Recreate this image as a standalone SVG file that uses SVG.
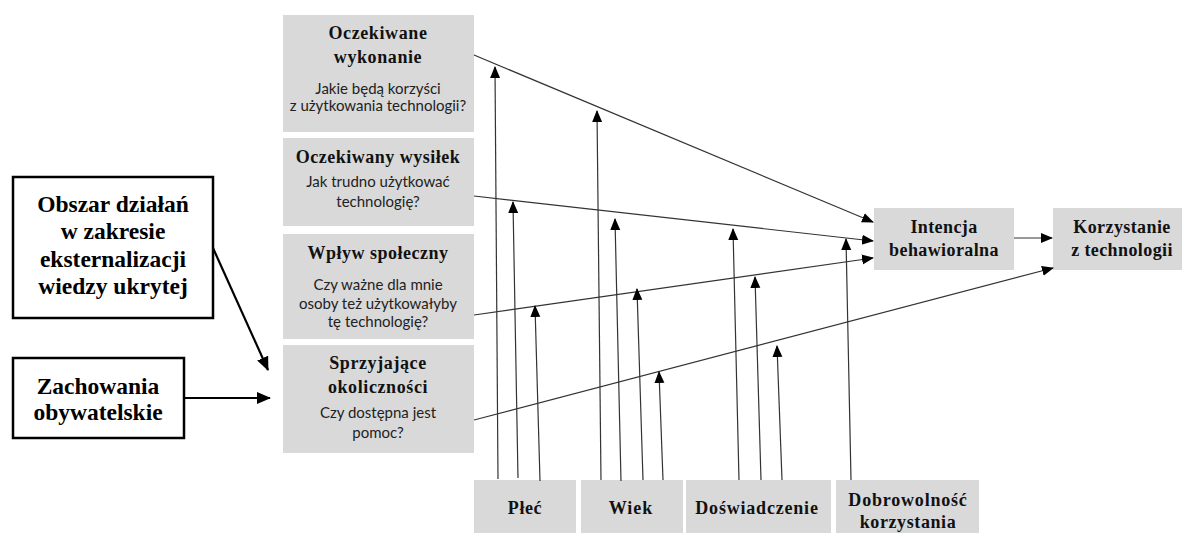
<svg xmlns="http://www.w3.org/2000/svg" width="1182" height="533" viewBox="0 0 1182 533">
<defs>
<marker id="ah" markerWidth="12" markerHeight="12" refX="11" refY="5" orient="auto" markerUnits="userSpaceOnUse" viewBox="0 0 12 10">
<path d="M0,0 L12,5 L0,10 z" fill="#000"/>
</marker>
<marker id="ahb" markerWidth="14" markerHeight="14" refX="13" refY="6" orient="auto" markerUnits="userSpaceOnUse" viewBox="0 0 14 12">
<path d="M0,0 L14,6 L0,12 z" fill="#000"/>
</marker>
</defs>
<style>
.g{fill:#d9d9d9}
.w{fill:#fff;stroke:#000;stroke-width:2.5}
.c{stroke:#333;stroke-width:1.2;fill:none;marker-end:url(#ah)}
.cb{stroke:#000;stroke-width:2.2;fill:none;marker-end:url(#ahb)}
</style>
<rect width="1182" height="533" fill="#fff"/>
<g font-family="Liberation Serif" font-weight="bold" font-size="23.5" fill="#000" text-anchor="middle">
<g id="n-obszar">
<rect class="w" x="13" y="177" width="200" height="141"/>
<text x="113" y="212">Obszar działań</text>
<text x="113" y="239">w zakresie</text>
<text x="113" y="267">eksternalizacji</text>
<text x="113" y="294">wiedzy ukrytej</text>
</g>
<g id="n-zachowania">
<rect class="w" x="13" y="358" width="171" height="80"/>
<text x="98" y="394">Zachowania</text>
<text x="98" y="420">obywatelskie</text>
</g>
</g>
<g font-family="Liberation Serif" font-weight="bold" font-size="18" fill="#111" text-anchor="middle">
<g id="n-oczekiwane-wykonanie">
<rect class="g" x="283" y="15" width="191" height="117"/>
<text x="378" y="39" letter-spacing="0.6">Oczekiwane</text>
<text x="378" y="63" letter-spacing="0.6">wykonanie</text>
<g font-family="Lato" font-weight="normal" font-size="15" fill="#222">
<text x="378" y="94">Jakie będą korzyści</text>
<text x="378" y="111">z użytkowania technologii?</text>
</g>
</g>
<g id="n-oczekiwany-wysilek">
<rect class="g" x="283" y="138" width="191" height="88"/>
<text x="378" y="163" letter-spacing="0.5">Oczekiwany wysiłek</text>
<g font-family="Lato" font-weight="normal" font-size="15" fill="#222">
<text x="378" y="187">Jak trudno użytkować</text>
<text x="378" y="207">technologię?</text>
</g>
</g>
<g id="n-wplyw-spoleczny">
<rect class="g" x="283" y="234" width="191" height="105"/>
<text x="378" y="259" letter-spacing="0.5">Wpływ społeczny</text>
<g font-family="Lato" font-weight="normal" font-size="15" fill="#222">
<text x="378" y="290">Czy ważne dla mnie</text>
<text x="378" y="309">osoby też użytkowałyby</text>
<text x="378" y="327">tę technologię?</text>
</g>
</g>
<g id="n-sprzyjajace">
<rect class="g" x="283" y="345" width="191" height="108"/>
<text x="378" y="369" letter-spacing="0.6">Sprzyjające</text>
<text x="378" y="393" letter-spacing="0.6">okoliczności</text>
<g font-family="Lato" font-weight="normal" font-size="15" fill="#222">
<text x="378" y="418">Czy dostępna jest</text>
<text x="378" y="438">pomoc?</text>
</g>
</g>
<g id="n-intencja">
<rect class="g" x="874" y="208" width="140" height="62"/>
<text x="944" y="233" letter-spacing="0.4">Intencja</text>
<text x="944" y="256" letter-spacing="0.4">behawioralna</text>
</g>
<g id="n-korzystanie">
<rect class="g" x="1053" y="208" width="129" height="62"/>
<text x="1122" y="233" letter-spacing="0.4">Korzystanie</text>
<text x="1122" y="256" letter-spacing="0.4">z technologii</text>
</g>
<g id="n-plec">
<rect class="g" x="474" y="480" width="102" height="53"/>
<text x="525" y="514" letter-spacing="0.6">Płeć</text>
</g>
<g id="n-wiek">
<rect class="g" x="581" y="480" width="102" height="53"/>
<text x="631" y="514" letter-spacing="1">Wiek</text>
</g>
<g id="n-doswiadczenie">
<rect class="g" x="686" y="480" width="145" height="53"/>
<text x="757" y="514" letter-spacing="0.8">Doświadczenie</text>
</g>
<g id="n-dobrowolnosc">
<rect class="g" x="836" y="480" width="143" height="53"/>
<text x="908" y="506" letter-spacing="0.8">Dobrowolność</text>
<text x="908" y="528" letter-spacing="0.6">korzystania</text>
</g>
</g>
<g id="connectors">
<line class="cb" x1="213" y1="248" x2="268" y2="370"/>
<line class="cb" x1="184" y1="398" x2="270" y2="398"/>
<line class="c" x1="474" y1="55" x2="873" y2="222"/>
<line class="c" x1="474" y1="196" x2="873" y2="241"/>
<line class="c" x1="474" y1="315" x2="873" y2="258"/>
<line class="c" x1="474" y1="420" x2="1053" y2="268"/>
<line class="c" x1="1014" y1="238" x2="1052" y2="238"/>
<line class="c" x1="498" y1="479" x2="495" y2="67"/>
<line class="c" x1="518" y1="478" x2="513" y2="202"/>
<line class="c" x1="540" y1="481" x2="535" y2="306"/>
<line class="c" x1="601" y1="480" x2="597" y2="111"/>
<line class="c" x1="621" y1="481" x2="615" y2="219"/>
<line class="c" x1="643" y1="480" x2="637" y2="289"/>
<line class="c" x1="663" y1="480" x2="659" y2="372"/>
<line class="c" x1="739" y1="480" x2="733" y2="229"/>
<line class="c" x1="761" y1="480" x2="755" y2="277"/>
<line class="c" x1="782" y1="480" x2="777" y2="346"/>
<line class="c" x1="851" y1="480" x2="846" y2="239"/>
</g>
</svg>
